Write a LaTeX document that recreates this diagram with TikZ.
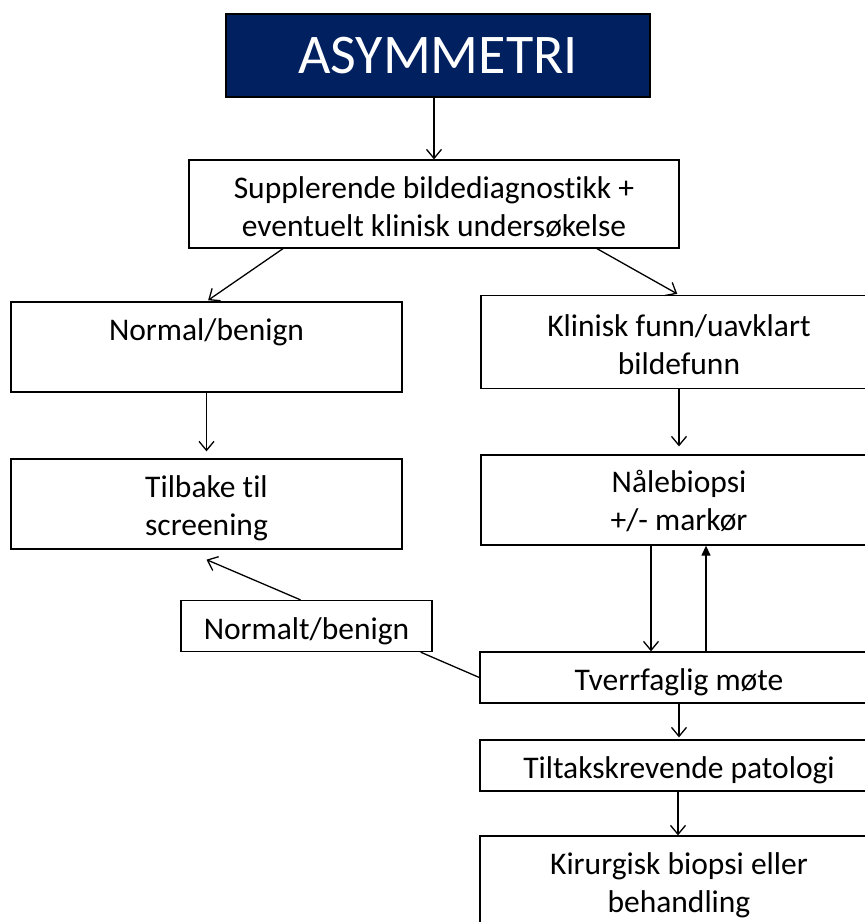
\documentclass[tikz,border=0pt]{standalone}
\usepackage{fontspec}
\setmainfont{Carlito}[Ligatures=NoCommon]
\usetikzlibrary{arrows.meta,positioning}
\definecolor{marine}{HTML}{002060}

\begin{document}
\begin{tikzpicture}[x=1pt,y=-1pt,
    boks/.style={draw,line width=1.3pt,align=center,inner sep=0pt,
      font=\fontsize{31.5}{38}\selectfont,execute at begin node={\rule{0pt}{32pt}}},
    tolinje/.style={execute at begin node={\rule{0pt}{#1}}},
    tolinje/.default=66pt,
    toppboks/.style={boks,fill=marine,text=white,font=\fontsize{56}{60}\selectfont,
      execute at begin node={}},
    pil/.style={line width=1.3pt,-{Straight Barb[length=9pt,width=15pt]}},
    tilbakepil/.style={line width=1.3pt,-{Triangle[length=10pt,width=9pt]}}]
  \useasboundingbox (0,0) rectangle (865,922);
  \clip (0,0) rectangle (865,922);
  \node[toppboks,minimum width=424,minimum height=83] (asym) at (438,55.5) {ASYMMETRI};
  \node[boks,tolinje,minimum width=490,minimum height=88] (supp) at (434,204)
    {Supplerende bildediagnostikk +\\eventuelt klinisk undersøkelse};
  % venstre side
  \node[boks,tolinje=75pt,minimum width=391,minimum height=90] (normal) at (206.5,347)
    {Normal/benign\\\strut};
  \node[boks,tolinje=68pt,minimum width=391,minimum height=90] (tilbake) at (206.5,504)
    {Tilbake til\\screening};
  \node[boks,minimum width=251,minimum height=51] (normalt) at (306.5,626) {Normalt/benign};
  % hoyre side
  \node[boks,tolinje,minimum width=396,minimum height=93] (klinisk) at (679,342)
    {Klinisk funn/uavklart\\bildefunn};
  \node[boks,tolinje=62pt,minimum width=396,minimum height=90] (naal) at (679,500)
    {Nålebiopsi\\ +/- markør};
  \node[boks,minimum width=398,minimum height=51] (tverr) at (679,677.5) {Tverrfaglig møte};
  \node[boks,minimum width=398,minimum height=51] (tiltak) at (679,765.5) {Tiltakskrevende patologi};
  \node[boks,tolinje=68pt,minimum width=398,minimum height=90] (kir) at (679,881)
    {Kirurgisk biopsi eller\\behandling};

  \draw[pil] (asym.south -| supp.north) -- (supp.north);
  \draw[pil,shorten >=2pt] ([xshift=-151pt]supp.south) -- (normal.north);
  \draw[pil,shorten >=2pt] ([xshift=163pt]supp.south) -- (klinisk.north);
  \draw[pil,shorten >=7pt] (normal) -- (tilbake);
  \draw[pil,shorten >=8pt] (klinisk) -- (naal);
  % mellom biopsi og mote
  \draw[pil] ([xshift=-28pt]naal.south) -- ([xshift=-28pt]tverr.north);
  \draw[tilbakepil] ([xshift=27pt]tverr.north) -- ([xshift=27pt]naal.south);
  \draw[line width=1.3pt] (tverr.west) -- ([xshift=-12pt]normalt.south east);
  \draw[pil] ([xshift=-6pt]normalt.north) -- ([yshift=-10pt]tilbake.south);
  \draw[pil,shorten >=2pt] (tverr) -- (tiltak);
  \draw[pil] ([xshift=-1pt]tiltak.south) -- ([xshift=-1pt]kir.north);
\end{tikzpicture}
\end{document}
